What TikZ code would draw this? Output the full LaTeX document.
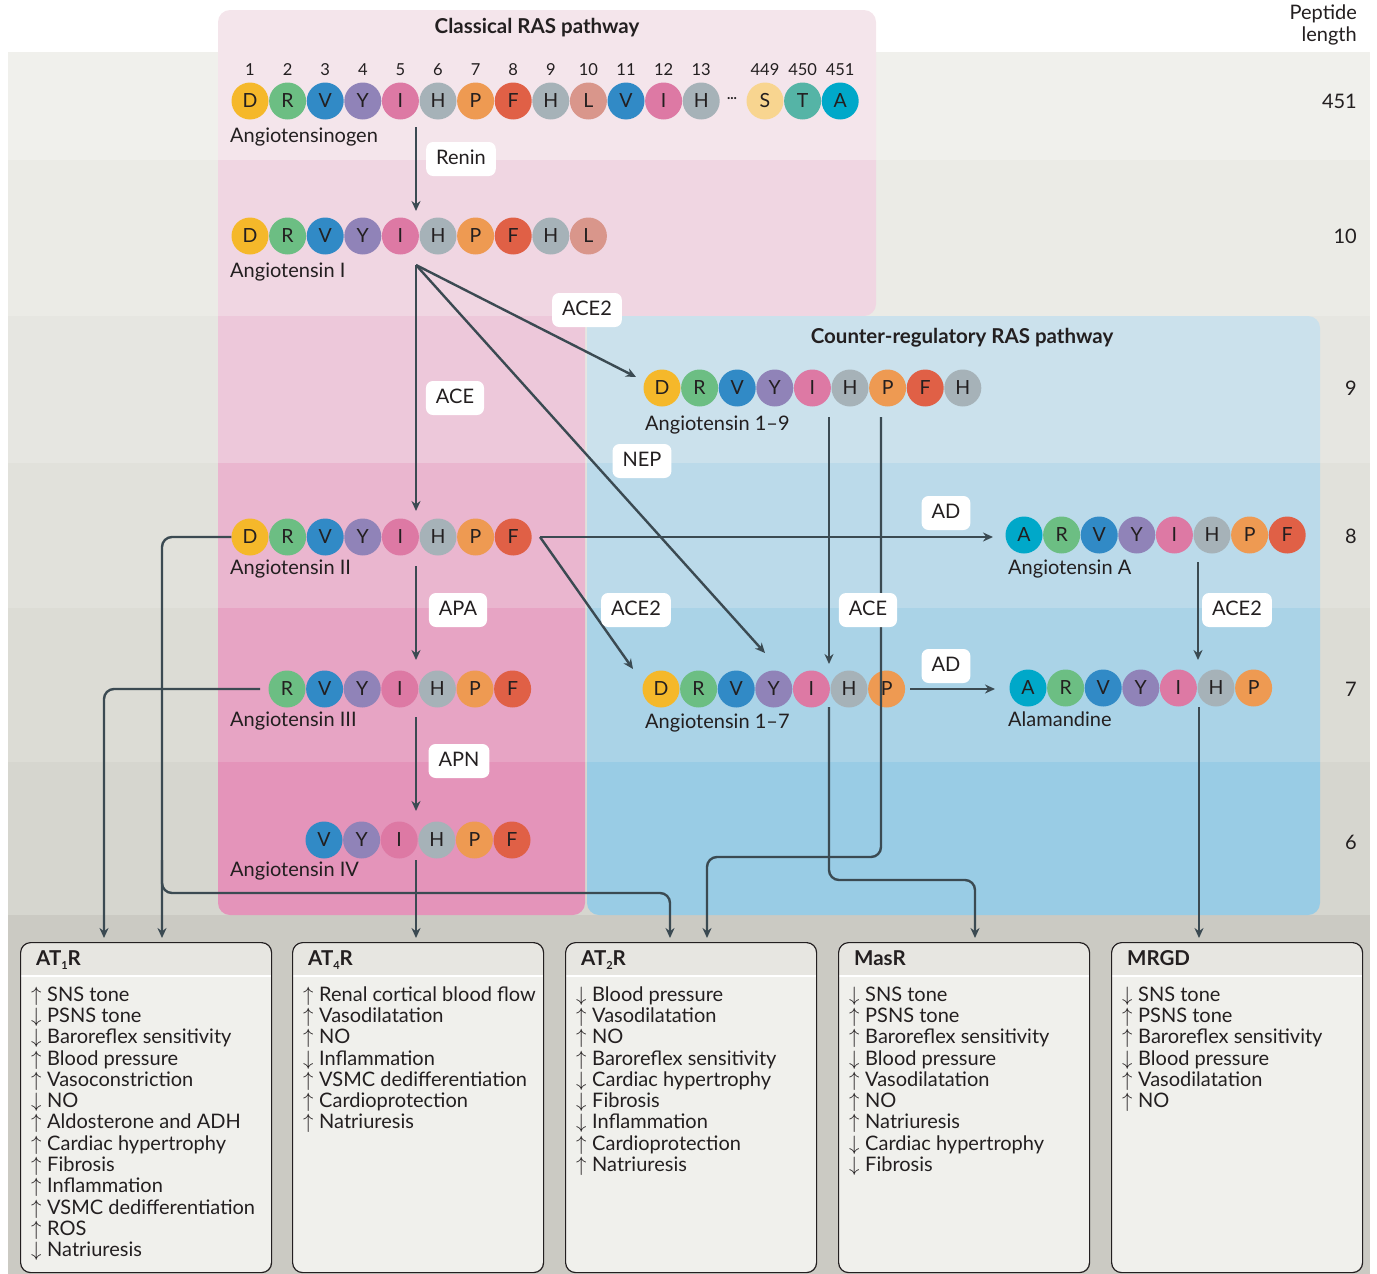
\documentclass[tikz,border=0pt]{standalone}
\usepackage{fontspec}
\setmainfont{Lato}
\usetikzlibrary{arrows.meta,calc}
\definecolor{cD}{HTML}{F5B82A}
\definecolor{cR}{HTML}{6CBE83}
\definecolor{cV}{HTML}{318AC6}
\definecolor{cY}{HTML}{9083B8}
\definecolor{cI}{HTML}{DD79A4}
\definecolor{cH}{HTML}{A6B2B8}
\definecolor{cP}{HTML}{EE9A52}
\definecolor{cF}{HTML}{E06046}
\definecolor{cL}{HTML}{D9968B}
\definecolor{cS}{HTML}{F8D590}
\definecolor{cT}{HTML}{55B4A6}
\definecolor{cA}{HTML}{00A8C9}
\definecolor{lnc}{HTML}{3B4A52}
\definecolor{txt}{HTML}{231F20}
\definecolor{gA}{HTML}{F0F0EC}
\definecolor{gB}{HTML}{EBEBE6}
\definecolor{gC}{HTML}{E6E6E1}
\definecolor{gD}{HTML}{E1E1DB}
\definecolor{gE}{HTML}{DCDCD5}
\definecolor{gF}{HTML}{D6D6CF}
\definecolor{gG}{HTML}{CBCAC3}
\definecolor{pA}{HTML}{F4E5EB}
\definecolor{pB}{HTML}{F0D6E2}
\definecolor{pC}{HTML}{EDC8DA}
\definecolor{pD}{HTML}{EAB6CF}
\definecolor{pE}{HTML}{E7A4C4}
\definecolor{pF}{HTML}{E494BA}
\definecolor{bC}{HTML}{CBE1EC}
\definecolor{bD}{HTML}{BBDAEA}
\definecolor{bE}{HTML}{AAD3E7}
\definecolor{bF}{HTML}{99CCE5}
\definecolor{hdrc}{HTML}{E7E6E1}
\definecolor{bodyc}{HTML}{F0F0EC}
\newcommand\myU{\makebox[16pt][l]{\fontsize{22}{22}\selectfont$\uparrow$}}
\newcommand\myD{\makebox[16pt][l]{\fontsize{22}{22}\selectfont$\downarrow$}}
\newcommand\lowsub[1]{\raisebox{-4pt}{\fontsize{11}{11}\selectfont #1}}
\tikzset{
  base/.style={font=\fontsize{20}{22}\selectfont, text=txt},
  res/.style={font=\fontsize{19.5}{22}\selectfont, text=txt, circle, minimum size=37pt, inner sep=0pt},
  num/.style={font=\fontsize{16.5}{18}\selectfont, text=txt, inner sep=0pt},
  lbl/.style={base, anchor=west, inner sep=0pt, text height=14pt, text depth=4pt},
  ttl/.style={font=\bfseries\fontsize{20.5}{22}\selectfont, text=txt, inner sep=0pt},
  enz/.style={base, fill=white, rounded corners=7pt, inner xsep=10pt, inner ysep=0pt, minimum height=34pt, text height=14pt, text depth=3pt},
  arr/.style={draw=lnc, line width=2.4pt, -{Stealth[length=10pt,width=9pt]}},
  item/.style={base, anchor=west, inner sep=0pt, text height=14pt, text depth=4pt},
  hdr/.style={ttl, anchor=west, text height=14pt, text depth=4pt},
}
\newcommand\peprow[4]{\foreach \L [count=\i] in {#4} {\node[res, fill=c\L] (#1\i) at ({#2+(\i-1)*37.6},#3) {\L};}}
\newcommand\effects[3]{\foreach \t [count=\i] in {#3} {\node[item] (#1\i) at (#2,{996+(\i-1)*21.33}) {\t};}}
\newcommand\rbox[4]{%
  \begin{scope}
    \clip[rounded corners=10pt] (#2,942) rectangle ++(251,330);
    \fill[bodyc] (#2,942) rectangle ++(251,330);
    \fill[hdrc] (#2,942) rectangle ++(251,33);
    \draw[white, line width=1.5pt] (#2,976) -- ++(251,0);
  \end{scope}
  \node[draw=txt, line width=1.2pt, rounded corners=10pt, minimum width=251pt, minimum height=330pt, anchor=north west, inner sep=0pt] (#1) at (#2,942) {};
  \node[hdr] (#1h) at ({#2+16},960) {#3};
  \effects{#1i}{{#2+11}}{#4}}
\begin{document}
\begin{tikzpicture}[x=1pt,y=-1pt]
\useasboundingbox (0,0) rectangle (1377,1274);
% gray bands
\fill[gA] (8,52) rectangle (1370,160);
\fill[gB] (8,160) rectangle (1370,316);
\fill[gC] (8,316) rectangle (1370,463);
\fill[gD] (8,463) rectangle (1370,608);
\fill[gE] (8,608) rectangle (1370,762);
\fill[gF] (8,762) rectangle (1370,915);
\fill[gG] (8,915) rectangle (1370,1274);
% pink panel
\begin{scope}
  \clip[rounded corners=12pt] (218,10) -- (876,10) -- (876,316) -- (585,316) -- (585,915) -- (218,915) -- cycle;
  \fill[pA] (200,0) rectangle (900,160);
  \fill[pB] (200,160) rectangle (900,316);
  \fill[pC] (200,316) rectangle (600,463);
  \fill[pD] (200,463) rectangle (600,608);
  \fill[pE] (200,608) rectangle (600,762);
  \fill[pF] (200,762) rectangle (600,920);
\end{scope}
% blue panel
\begin{scope}
  \clip[rounded corners=12pt] (587,316) rectangle (1320,915);
  \fill[bC] (580,310) rectangle (1330,463);
  \fill[bD] (580,463) rectangle (1330,608);
  \fill[bE] (580,608) rectangle (1330,762);
  \fill[bF] (580,762) rectangle (1330,920);
\end{scope}
% titles
\node[ttl] (t1) at (537,28) {Classical RAS pathway};
\node[ttl] (t2) at (962,338) {Counter-regulatory RAS pathway};
\node[base, anchor=east, inner sep=0pt] (pl1) at (1357,14) {Peptide};
\node[base, anchor=east, inner sep=0pt] (pl2) at (1357,36) {length};
\node[base, anchor=east, inner sep=0pt] (len1) at (1357,101) {451};
\node[base, anchor=east, inner sep=0pt] (len2) at (1357,236) {10};
\node[base, anchor=east, inner sep=0pt] (len3) at (1357,388) {9};
\node[base, anchor=east, inner sep=0pt] (len4) at (1357,536) {8};
\node[base, anchor=east, inner sep=0pt] (len5) at (1357,689) {7};
\node[base, anchor=east, inner sep=0pt] (len6) at (1357,842) {6};
% numbers
\foreach \n in {1,...,13} {\node[num] (n\n) at ({250+(\n-1)*37.6},70) {\n};}
\node[num] (n449) at (765,70) {449};
\node[num] (n450) at (802.6,70) {450};
\node[num] (n451) at (840.2,70) {451};
% peptides
\peprow{g}{250}{101}{D,R,V,Y,I,H,P,F,H,L,V,I,H}
\node[font=\bfseries\fontsize{14}{14}\selectfont, text=txt, inner sep=0pt] (gdots) at (732,99) {...};
\peprow{gt}{765}{101}{S,T,A}
\peprow{aI}{250}{236}{D,R,V,Y,I,H,P,F,H,L}
\peprow{aN}{662}{388}{D,R,V,Y,I,H,P,F,H}
\peprow{aII}{250}{537}{D,R,V,Y,I,H,P,F}
\peprow{aA}{1024}{535}{A,R,V,Y,I,H,P,F}
\peprow{aIII}{287}{689}{R,V,Y,I,H,P,F}
\peprow{aS}{661}{689}{D,R,V,Y,I,H,P}
\peprow{al}{1028}{688}{A,R,V,Y,I,H,P}
\peprow{aIV}{324}{840}{V,Y,I,H,P,F}
% labels
\node[lbl] (lgen) at (230,137) {Angiotensinogen};
\node[lbl] (lI) at (230,272) {Angiotensin I};
\node[lbl] (lN) at (645,425) {Angiotensin 1–9};
\node[lbl] (lII) at (230,569) {Angiotensin II};
\node[lbl] (lA) at (1008,569) {Angiotensin A};
\node[lbl] (lIII) at (230,721) {Angiotensin III};
\node[lbl] (lS) at (645,723) {Angiotensin 1–7};
\node[lbl] (lal) at (1008,721) {Alamandine};
\node[lbl] (lIV) at (230,871) {Angiotensin IV};
% boxes
\rbox{bat1}{20}{AT\lowsub{1}R}{\myU SNS tone,\myD PSNS tone,\myD Baroreflex sensitivity,\myU Blood pressure,\myU Vasoconstriction,\myD NO,\myU Aldosterone and ADH,\myU Cardiac hypertrophy,\myU Fibrosis,\myU Inflammation,\myU VSMC dedifferentiation,\myU ROS,\myD Natriuresis}
\rbox{bat4}{292}{AT\lowsub{4}R}{\myU Renal cortical blood flow,\myU Vasodilatation,\myU NO,\myD Inflammation,\myU VSMC dedifferentiation,\myU Cardioprotection,\myU Natriuresis}
\rbox{bat2}{565}{AT\lowsub{2}R}{\myD Blood pressure,\myU Vasodilatation,\myU NO,\myU Baroreflex sensitivity,\myD Cardiac hypertrophy,\myD Fibrosis,\myD Inflammation,\myU Cardioprotection,\myU Natriuresis}
\rbox{bmas}{838}{MasR}{\myD SNS tone,\myU PSNS tone,\myU Baroreflex sensitivity,\myD Blood pressure,\myU Vasodilatation,\myU NO,\myU Natriuresis,\myD Cardiac hypertrophy,\myD Fibrosis}
\rbox{bmrg}{1111}{MRGD}{\myD SNS tone,\myU PSNS tone,\myU Baroreflex sensitivity,\myD Blood pressure,\myU Vasodilatation,\myU NO}
% coordinates
\coordinate (rs) at (416,127);
\coordinate (re) at (416,211);
\coordinate (ai) at (416,265);
\coordinate (aceE) at (416,511);
\coordinate (ace2E) at (636,377);
\coordinate (nepE) at (765,653);
\coordinate (a2e) at (540,537);
\coordinate (adE) at (993,537);
\coordinate (a2ce) at (633,669);
\coordinate (apaS) at (416,566);
\coordinate (apaE) at (416,660);
\coordinate (apnS) at (416,717);
\coordinate (apnE) at (416,811);
\coordinate (n9a) at (829,417);
\coordinate (n9aE) at (829,664);
\coordinate (n9b) at (881,417);
\coordinate (ad2S) at (910,689);
\coordinate (ad2E) at (995,689);
\coordinate (aAs) at (1198,562);
\coordinate (aAe) at (1198,660);
\coordinate (s7) at (829,707);
\coordinate (alS) at (1199,707);
\coordinate (a3s) at (260,689);
\coordinate (a4s) at (416,860);
\coordinate (br) at (162,860);
% connectors
\draw[arr] (rs) -- (re);
\draw[arr] (ai) -- (aceE);
\draw[arr] (ai) -- (ace2E);
\draw[arr] (ai) -- (nepE);
\draw[arr] (a2e) -- (adE);
\draw[arr] (a2e) -- (a2ce);
\draw[arr] (apaS) -- (apaE);
\draw[arr] (apnS) -- (apnE);
\draw[arr] (n9a) -- (n9aE);
\draw[arr] (ad2S) -- (ad2E);
\draw[arr] (aAs) -- (aAe);
\draw[arr, rounded corners=10pt] (n9b) -- (881,857) -- (707,857) -- (707,938);
\draw[arr, rounded corners=10pt] (s7) -- (829,880) -- (975,880) -- (975,938);
\draw[arr] (alS) -- (1199,938);
\draw[arr, rounded corners=10pt] (aII1.west) -- (162,537) -- (162,938);
\draw[arr, rounded corners=10pt] (br) -- (162,893) -- (670,893) -- (670,938);
\draw[arr, rounded corners=10pt] (a3s) -- (104,689) -- (104,938);
\draw[arr] (a4s) -- (416,938);
% enzyme labels
\node[enz] (eRenin) at (461,159) {Renin};
\node[enz] (eACE) at (455,398) {ACE};
\node[enz] (eACE2a) at (587,310) {ACE2};
\node[enz] (eNEP) at (642,461) {NEP};
\node[enz] (eAD1) at (946,513) {AD};
\node[enz] (eAPA) at (458,610) {APA};
\node[enz] (eACE2b) at (636,610) {ACE2};
\node[enz] (eACEb) at (868,610) {ACE};
\node[enz] (eACE2c) at (1237,610) {ACE2};
\node[enz] (eAD2) at (946,666) {AD};
\node[enz] (eAPN) at (459,761) {APN};
\end{tikzpicture}
\end{document}
